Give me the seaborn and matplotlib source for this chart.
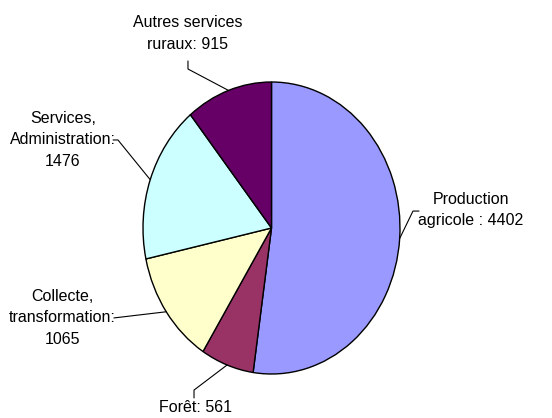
"""
Répartition des emplois ruraux - pie chart (Excel style)
"""

import numpy as np
import matplotlib
matplotlib.use("Agg")
import matplotlib.pyplot as plt
import seaborn as sns

# ============================================================================
# DATA
# ============================================================================

categories = ["Production\nagricole :", "Forêt:", "Collecte,\ntransformation:",
              "Services,\nAdministration:", "Autres services\nruraux:"]
separators = [" ", " ", "\n", "\n", " "]
values = [4402, 561, 1065, 1476, 915]
colors = ["#9999FF", "#993366", "#FFFFCC", "#CCFFFF", "#660066"]

# label placement (axes data units, pie radius = 1): text centre, leader path
label_xy = [(1.553, 0.123), (-0.595, -1.232), (-1.630, -0.616),
            (-1.623, 0.603), (-0.650, 1.332)]
leader_paths = [[(1.148, 0.116), (1.101, 0.116)],
                [(-0.603, -1.164), (-0.603, -1.110)],
                [(-1.226, -0.616)],
                [(-1.233, 0.603), (-1.195, 0.603)],
                [(-0.650, 1.144), (-0.650, 1.089)]]

# ============================================================================
# STYLE
# ============================================================================

sns.set_theme(style="white")
plt.rcParams['font.family'] = ['Liberation Sans', 'DejaVu Sans']
palette = sns.color_palette(colors)

fig = plt.figure(figsize=(5.52, 4.18), dpi=100)
fig.patch.set_facecolor("white")
# Excel stretched the pie into an ellipse, so the axes box is the pie's bounding box
ax = fig.add_axes([143 / 552, 44 / 418, 257 / 552, 292 / 418])

wedges, _ = ax.pie(values, colors=palette, startangle=90, counterclock=False,
                   wedgeprops=dict(edgecolor="black", linewidth=1.0))
ax.set_aspect("auto")
ax.set_xlim(-1, 1)
ax.set_ylim(-1, 1)
ax.axis("off")

for wedge, name, sep, val, (tx, ty), path in zip(wedges, categories, separators,
                                                 values, label_xy, leader_paths):
    mid = np.deg2rad((wedge.theta1 + wedge.theta2) / 2)
    px, py = np.cos(mid), np.sin(mid)
    xs = [p[0] for p in path] + [px]
    ys = [p[1] for p in path] + [py]
    ax.plot(xs, ys, color="black", linewidth=0.8, clip_on=False)
    ax.text(tx, ty, f"{name}{sep}{val}", ha="center", va="center",
            multialignment="center", fontsize=11.5, color="black",
            linespacing=1.55, clip_on=False)

fig.savefig("out.png", dpi=100, facecolor="white")
